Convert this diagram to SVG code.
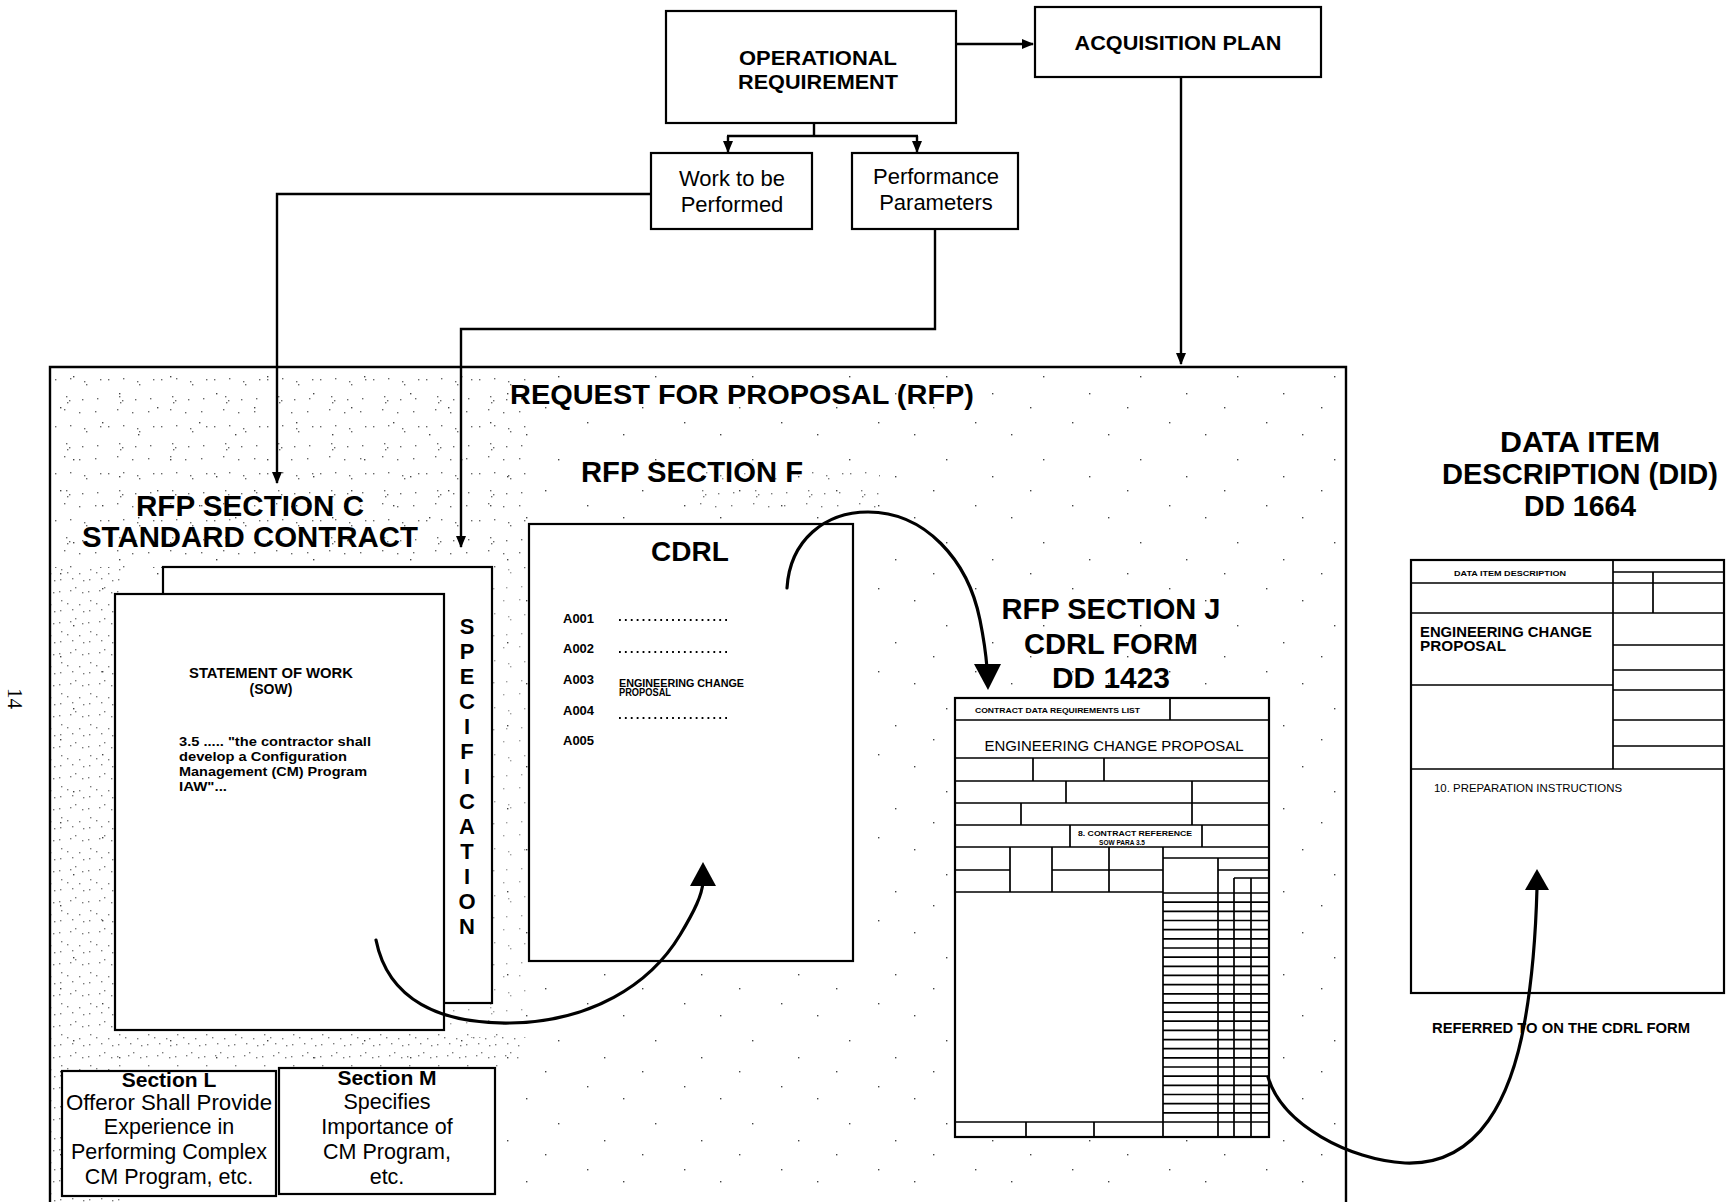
<svg xmlns="http://www.w3.org/2000/svg" width="1729" height="1202" viewBox="0 0 1729 1202">
<defs>
<style>
text{font-family:"Liberation Sans",Arial,Helvetica,sans-serif;fill:#000}
.b{font-weight:bold}
.m{text-anchor:middle}
.box{fill:#fff;stroke:#000;stroke-width:2.2}
.ln{fill:none;stroke:#000;stroke-width:2.4}
.fl{fill:none;stroke:#000;stroke-width:1.7}
.cv{fill:none;stroke:#000;stroke-width:3.2;stroke-linecap:round}
.dots{fill:none;stroke:#000;stroke-width:1.8;stroke-dasharray:1.8 4.1}
.s1{fill:#444}
</style>
<marker id="ah" markerUnits="userSpaceOnUse" markerWidth="12" markerHeight="10" refX="11" refY="5" orient="auto"><path d="M0,0 L12,5 L0,10 z" fill="#000"/></marker>
<pattern id="st1" patternUnits="userSpaceOnUse" width="53" height="47">
<g class="s1"><rect x="2" y="3" width="1.4" height="1.4"/><rect x="17" y="2" width="1.4" height="1.4"/><rect x="31" y="5" width="1.4" height="1.4"/><rect x="47" y="3" width="1.4" height="1.4"/><rect x="13" y="20" width="1.4" height="1.4"/><rect x="29" y="23" width="1.4" height="1.4"/><rect x="44" y="22" width="1.4" height="1.4"/><rect x="11" y="33" width="1.4" height="1.4"/><rect x="26" y="36" width="1.4" height="1.4"/><rect x="42" y="35" width="1.4" height="1.4"/><rect x="14" y="26" width="1.4" height="1.4"/><rect x="16" y="24" width="1.4" height="1.4"/><rect x="33" y="8" width="1.4" height="1.4"/></g>
</pattern>
<pattern id="st2" patternUnits="userSpaceOnUse" width="29" height="31">
<g class="s1"><rect x="1" y="2" width="1.4" height="1.4"/><rect x="12" y="1" width="1.4" height="1.4"/><rect x="24" y="3" width="1.4" height="1.4"/><rect x="9" y="14" width="1.4" height="1.4"/><rect x="21" y="15" width="1.4" height="1.4"/><rect x="3" y="11" width="1.4" height="1.4"/><rect x="2" y="21" width="1.4" height="1.4"/><rect x="14" y="20" width="1.4" height="1.4"/><rect x="25" y="22" width="1.4" height="1.4"/><rect x="17" y="29" width="1.4" height="1.4"/></g>
</pattern>
<pattern id="st3" patternUnits="userSpaceOnUse" width="97" height="83">
<g class="s1"><rect x="5" y="7" width="1.4" height="1.4"/><rect x="41" y="19" width="1.4" height="1.4"/><rect x="73" y="44" width="1.4" height="1.4"/><rect x="22" y="61" width="1.4" height="1.4"/><rect x="60" y="75" width="1.4" height="1.4"/></g>
</pattern>
</defs>
<rect width="1729" height="1202" fill="#fff"/>

<g id="page-number">
<text transform="translate(8,688) rotate(90)" style="font-family:'Liberation Serif',serif;font-size:21px">14</text>
</g>

<g id="rfp">
<rect x="51" y="368" width="1294" height="834" fill="url(#st3)"/>
<rect x="51" y="368" width="480" height="200" fill="url(#st1)" opacity="0.8"/>
<rect x="51" y="568" width="70" height="634" fill="url(#st2)" opacity="0.7"/>
<rect x="121" y="1030" width="400" height="38" fill="url(#st2)" opacity="0.7"/>
<rect x="445" y="568" width="85" height="470" fill="url(#st1)" opacity="0.5"/>
<rect x="700" y="468" width="180" height="50" fill="url(#st1)" opacity="0.7"/>
<path class="ln" d="M50,1202 V367 H1346 V1202"/>
<text class="b m" x="742" y="404" style="font-size:27px" textLength="464" lengthAdjust="spacingAndGlyphs">REQUEST FOR PROPOSAL (RFP)</text>
</g>

<g id="operational-requirement">
<rect class="box" x="666" y="11" width="290" height="112"/>
<text class="b m" x="818" y="65" style="font-size:21px" textLength="158" lengthAdjust="spacingAndGlyphs">OPERATIONAL</text>
<text class="b m" x="818" y="89" style="font-size:21px" textLength="160" lengthAdjust="spacingAndGlyphs">REQUIREMENT</text>
</g>

<g id="acquisition-plan">
<rect class="box" x="1035" y="7" width="286" height="70"/>
<text class="b m" x="1178" y="50" style="font-size:20px" textLength="207" lengthAdjust="spacingAndGlyphs">ACQUISITION PLAN</text>
</g>

<g id="work-to-be-performed">
<rect class="box" x="651" y="153" width="161" height="76"/>
<text class="m" x="732" y="186" style="font-size:22px">Work to be</text>
<text class="m" x="732" y="212" style="font-size:22px">Performed</text>
</g>

<g id="performance-parameters">
<rect class="box" x="852" y="153" width="166" height="76"/>
<text class="m" x="936" y="184" style="font-size:22px">Performance</text>
<text class="m" x="936" y="210" style="font-size:22px">Parameters</text>
</g>

<g id="section-c">
<text class="b m" x="250" y="516" style="font-size:29px" textLength="228" lengthAdjust="spacingAndGlyphs">RFP SECTION C</text>
<text class="b m" x="250" y="547" style="font-size:29px" textLength="336" lengthAdjust="spacingAndGlyphs">STANDARD CONTRACT</text>
<rect class="box" x="163" y="567" width="329" height="436"/>
<text class="b m" style="font-size:22px"><tspan x="467" y="634">S</tspan><tspan x="467" y="659">P</tspan><tspan x="467" y="684">E</tspan><tspan x="467" y="709">C</tspan><tspan x="467" y="734">I</tspan><tspan x="467" y="759">F</tspan><tspan x="467" y="784">I</tspan><tspan x="467" y="809">C</tspan><tspan x="467" y="834">A</tspan><tspan x="467" y="859">T</tspan><tspan x="467" y="884">I</tspan><tspan x="467" y="909">O</tspan><tspan x="467" y="934">N</tspan></text>
<rect class="box" x="115" y="594" width="329" height="436"/>
<text class="b m" x="271" y="678" style="font-size:14px" textLength="164" lengthAdjust="spacingAndGlyphs">STATEMENT OF WORK</text>
<text class="b m" x="271" y="694" style="font-size:14px">(SOW)</text>
<text class="b" x="179" y="746" style="font-size:13.5px" textLength="192" lengthAdjust="spacingAndGlyphs">3.5 .....  "the contractor shall</text>
<text class="b" x="179" y="761" style="font-size:13.5px" textLength="168" lengthAdjust="spacingAndGlyphs">develop a Configuration</text>
<text class="b" x="179" y="776" style="font-size:13.5px" textLength="188" lengthAdjust="spacingAndGlyphs">Management (CM) Program</text>
<text class="b" x="179" y="791" style="font-size:13.5px" textLength="48" lengthAdjust="spacingAndGlyphs">IAW"...</text>
</g>

<g id="section-f">
<text class="b m" x="692" y="482" style="font-size:29px" textLength="222" lengthAdjust="spacingAndGlyphs">RFP SECTION F</text>
<rect class="box" x="529" y="524" width="324" height="437"/>
<text class="b m" x="690" y="561" style="font-size:28px">CDRL</text>
<g class="b" style="font-size:13px">
<text x="563" y="623">A001</text>
<text x="563" y="653">A002</text>
<text x="563" y="684">A003</text>
<text x="563" y="715">A004</text>
<text x="563" y="745">A005</text>
</g>
<path class="dots" d="M619,620 H731 M619,652 H731 M619,718 H731"/>
<text class="b" x="619" y="687" style="font-size:10px" textLength="125" lengthAdjust="spacingAndGlyphs">ENGINEERING CHANGE</text>
<text class="b" x="619" y="696" style="font-size:10px" textLength="52" lengthAdjust="spacingAndGlyphs">PROPOSAL</text>
</g>

<g id="section-j">
<text class="b m" x="1111" y="619" style="font-size:29px" textLength="219" lengthAdjust="spacingAndGlyphs">RFP SECTION J</text>
<text class="b m" x="1111" y="654" style="font-size:29px" textLength="174" lengthAdjust="spacingAndGlyphs">CDRL FORM</text>
<text class="b m" x="1111" y="688" style="font-size:29px" textLength="118" lengthAdjust="spacingAndGlyphs">DD 1423</text>
<rect class="box" x="955" y="698" width="314" height="439"/>
<path class="fl" d="M955,720 H1269 M955,758 H1269 M955,781 H1269 M955,803 H1269 M955,825 H1269 M955,847 H1269
M1170,698 V720 M1033,758 V781 M1104,758 V781 M1066,781 V803 M1192,781 V803 M1021,803 V825 M1192,803 V825 M1070,825 V847 M1202,825 V847
M1010,847 V892 M1052,847 V892 M1109,847 V892 M955,870 H1010 M1052,870 H1163 M955,892 H1163
M1163,847 V1137 M1163,858 H1269 M1218,858 V1137 M1218,870 H1269 M1234,878 V1137 M1251,878 V1137 M1234,878 H1269
M1163,893 H1269 M1163,902.2 H1269 M1163,911.3 H1269 M1163,920.5 H1269 M1163,929.6 H1269 M1163,938.8 H1269 M1163,948 H1269 M1163,957.1 H1269 M1163,966.3 H1269 M1163,975.4 H1269 M1163,984.6 H1269 M1163,993.8 H1269 M1163,1002.9 H1269 M1163,1012.1 H1269 M1163,1021.2 H1269 M1163,1030.4 H1269 M1163,1039.6 H1269 M1163,1048.7 H1269 M1163,1057.9 H1269 M1163,1067 H1269 M1163,1076.2 H1269 M1163,1085.4 H1269 M1163,1094.5 H1269 M1163,1103.7 H1269 M1163,1112.8 H1269
M955,1122 H1269 M1026,1122 V1137 M1094,1122 V1137"/>
<text class="b" x="975" y="713" style="font-size:7px" textLength="165" lengthAdjust="spacingAndGlyphs">CONTRACT  DATA REQUIREMENTS LIST</text>
<text class="m" x="1114" y="751" style="font-size:14.5px" textLength="259" lengthAdjust="spacingAndGlyphs">ENGINEERING CHANGE PROPOSAL</text>
<text class="b" x="1078" y="836" style="font-size:7px" textLength="114" lengthAdjust="spacingAndGlyphs">8.  CONTRACT REFERENCE</text>
<text class="b m" x="1122" y="844.5" style="font-size:6.5px">SOW PARA 3.5</text>
</g>

<g id="did">
<text class="b m" x="1580" y="452" style="font-size:29px" textLength="160" lengthAdjust="spacingAndGlyphs">DATA ITEM</text>
<text class="b m" x="1580" y="484" style="font-size:29px" textLength="276" lengthAdjust="spacingAndGlyphs">DESCRIPTION (DID)</text>
<text class="b m" x="1580" y="516" style="font-size:29px" textLength="112" lengthAdjust="spacingAndGlyphs">DD 1664</text>
<rect class="box" x="1411" y="560" width="313" height="433"/>
<path class="fl" d="M1613,560 V769 M1411,583 H1724 M1613,572 H1724 M1653,572 V613 M1411,613 H1724 M1411,685 H1613 M1613,645 H1724 M1613,670 H1724 M1613,690 H1724 M1613,720 H1724 M1613,746 H1724 M1411,769 H1724"/>
<text class="b m" x="1510" y="576" style="font-size:6.5px" textLength="112" lengthAdjust="spacingAndGlyphs">DATA ITEM DESCRIPTION</text>
<text class="b" x="1420" y="637" style="font-size:14px" textLength="172" lengthAdjust="spacingAndGlyphs">ENGINEERING CHANGE</text>
<text class="b" x="1420" y="651" style="font-size:14px" textLength="86" lengthAdjust="spacingAndGlyphs">PROPOSAL</text>
<text x="1434" y="792" style="font-size:11px" textLength="188" lengthAdjust="spacingAndGlyphs">10.  PREPARATION INSTRUCTIONS</text>
<text class="b m" x="1561" y="1033" style="font-size:14px" textLength="258" lengthAdjust="spacingAndGlyphs">REFERRED TO ON THE CDRL FORM</text>
</g>

<g id="section-l">
<rect class="box" x="62" y="1071" width="214" height="125"/>
<text class="b m" x="169" y="1087" style="font-size:21px">Section L</text>
<text class="m" x="169" y="1110" style="font-size:21.5px" textLength="206" lengthAdjust="spacingAndGlyphs">Offeror Shall Provide</text>
<text class="m" x="169" y="1134" style="font-size:21.5px">Experience in</text>
<text class="m" x="169" y="1159" style="font-size:21.5px">Performing Complex</text>
<text class="m" x="169" y="1184" style="font-size:21.5px">CM Program, etc.</text>
</g>

<g id="section-m">
<rect class="box" x="279" y="1068" width="216" height="126"/>
<text class="b m" x="387" y="1085" style="font-size:21px">Section M</text>
<text class="m" x="387" y="1109" style="font-size:21.5px">Specifies</text>
<text class="m" x="387" y="1134" style="font-size:21.5px">Importance of</text>
<text class="m" x="387" y="1159" style="font-size:21.5px">CM Program,</text>
<text class="m" x="387" y="1184" style="font-size:21.5px">etc.</text>
</g>

<g id="connectors">
<path class="ln" d="M956,44 H1033" marker-end="url(#ah)"/>
<path class="ln" d="M814,123 V136 M727,136 H918"/>
<path class="ln" d="M728,136 V152" marker-end="url(#ah)"/>
<path class="ln" d="M917,136 V152" marker-end="url(#ah)"/>
<path class="ln" d="M651,194 H277 V483" marker-end="url(#ah)"/>
<path class="ln" d="M935,229 V329 H461 V547" marker-end="url(#ah)"/>
<path class="ln" d="M1181,77 V364" marker-end="url(#ah)"/>
<path class="cv" d="M376,940 C388,1000 440,1024 510,1023 C590,1022 650,985 680,935 C695,910 702,895 703,882"/>
<path d="M703,862 L716,886 L690,886 z"/>
<path class="cv" d="M787,588 C790,540 825,512 868,512 C925,512 968,560 980,620 C984,640 986,655 987,668"/>
<path d="M988,690 L1001,664 L974,664 z"/>
<path class="cv" d="M1268,1077 C1282,1125 1350,1160 1405,1163 C1480,1166 1512,1095 1525,1020 C1533,975 1536,925 1537,888"/>
<path d="M1537,869 L1549,890 L1525,890 z"/>
</g>
</svg>
